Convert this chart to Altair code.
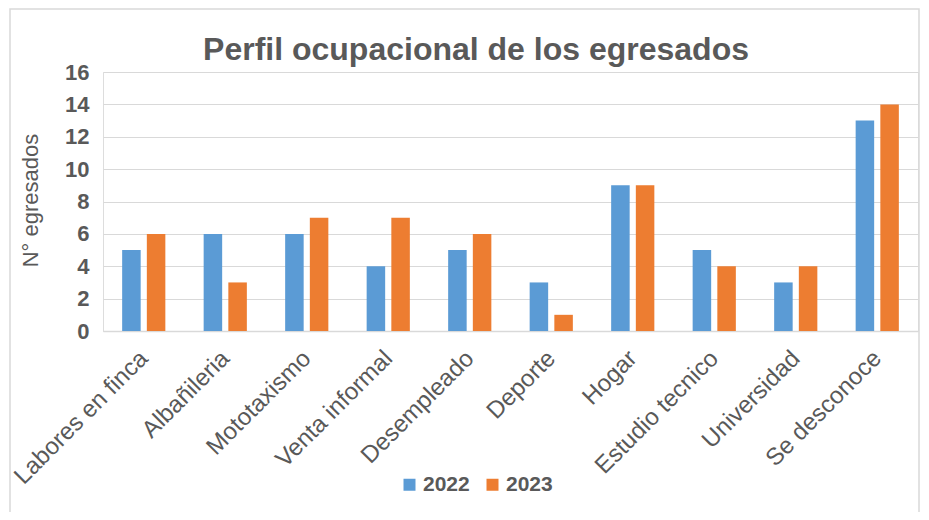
import altair as alt
import pandas as pd

categories = ["Labores en finca", "Albañileria", "Mototaxismo", "Venta informal",
              "Desempleado", "Deporte", "Hogar", "Estudio tecnico", "Universidad",
              "Se desconoce"]
v2022 = [5, 6, 6, 4, 5, 3, 9, 5, 3, 13]
v2023 = [6, 3, 7, 7, 6, 1, 9, 4, 4, 14]
years = ["2022", "2023"]
colors = ["#5b9bd5", "#ed7d31"]
title_text = "Perfil ocupacional de los egresados"

rows = []
for c, a, b in zip(categories, v2022, v2023):
    rows.append({"cat": c, "year": "2022", "n": a})
    rows.append({"cat": c, "year": "2023", "n": b})
df = pd.DataFrame(rows)

FONT = "Liberation Sans"
GREY = "#595959"
GRID = "#d9d9d9"

bars = alt.Chart(df).mark_bar().encode(
    x=alt.X("cat:N", sort=categories, title=None,
            scale=alt.Scale(paddingInner=0.47, paddingOuter=0.235),
            axis=alt.Axis(labelAngle=-45, labelFontSize=24, labelColor=GREY, labelFont=FONT,
                          ticks=False, domainColor=GRID, domainWidth=1.5, labelPadding=15,
                          labelOffset=-8, labelLimit=300, labelAlign="right",
                          labelBaseline="top")),
    xOffset=alt.XOffset("year:N", sort=years, scale=alt.Scale(paddingInner=0.25)),
    y=alt.Y("n:Q", scale=alt.Scale(domain=[0, 16]),
            axis=alt.Axis(values=list(range(0, 17, 2)), title="N° egresados",
                          labelFontSize=22, labelFontWeight="bold", labelColor=GREY, labelFont=FONT,
                          labelPadding=14, ticks=False, domain=False, gridColor=GRID, gridWidth=1.2,
                          titleFontSize=22, titleFontWeight="normal", titleColor=GREY, titleFont=FONT,
                          titleX=-73, titleY=128, titleAngle=-90, titleAlign="center",
                          titleBaseline="middle")),
    color=alt.Color("year:N", scale=alt.Scale(domain=years, range=colors),
                    legend=alt.Legend(title=None, orient="none", legendX=296, legendY=402,
                                      direction="horizontal", symbolType="square", symbolSize=144,
                                      symbolStrokeWidth=0, labelFontSize=21, labelFontWeight="bold",
                                      labelColor=GREY, labelFont=FONT, columnPadding=12,
                                      labelOffset=3)),
)

border = alt.Chart(pd.DataFrame({"a": [0]})).mark_rect(
    fill=None, stroke=GRID, strokeWidth=1.5
).encode(x=alt.value(-93), x2=alt.value(816), y=alt.value(-63), y2=alt.value(460))

title = alt.Chart(pd.DataFrame({"t": [title_text]})).mark_text(
    font=FONT, fontSize=32, fontWeight="bold", color=GREY, align="center",
    baseline="alphabetic"
).encode(text="t:N", x=alt.value(373), y=alt.value(-12))

chart = alt.layer(border, bars, title).properties(
    width=815, height=259,
    autosize=alt.AutoSizeParams(type="none"),
    padding={"left": 95, "top": 64, "right": 3, "bottom": 181},
).configure_view(stroke=None).configure(background="white")

chart.save("out.html", embed_options={"renderer": "svg", "actions": False})
